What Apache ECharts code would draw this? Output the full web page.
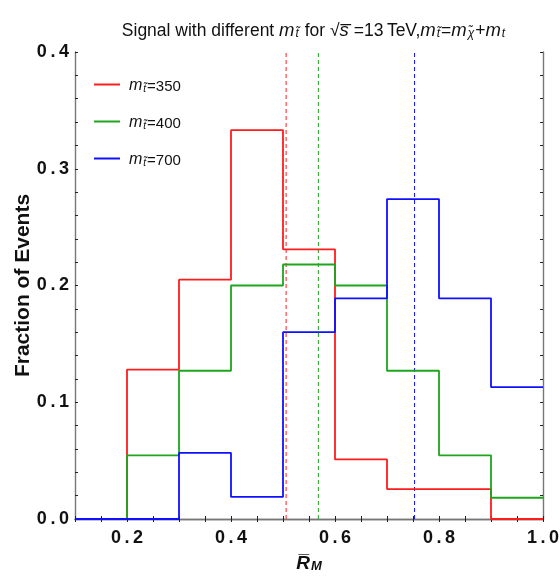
<!DOCTYPE html>
<html>
<head>
<meta charset="utf-8">
<script src="https://cdn.jsdelivr.net/npm/echarts@6/dist/echarts.min.js"></script>
<style>html,body{margin:0;padding:0;background:#fff}#c{width:560px;height:576px}</style>
</head>
<body>
<div id="c"></div>
<script>
// bin left edges (last entry = right edge of last bin)
var binEdges = [0.1, 0.2, 0.3, 0.4, 0.5, 0.6, 0.7, 0.8, 0.9, 1.0];
var seriesNames = ['350', '400', '700'];
var red350 = [0, 0.128, 0.205, 0.333, 0.231, 0.051, 0.0256, 0.0256, 0];
var green400 = [0, 0.0545, 0.127, 0.200, 0.218, 0.200, 0.127, 0.0545, 0.0182];
var blue700 = [0, 0, 0.0566, 0.0189, 0.160, 0.189, 0.274, 0.189, 0.113];
var meanLines = [0.506, 0.568, 0.753];
var colors = ['#ff1c1c', '#1ea51e', '#1010ff'];
var xTickLabels = [0.2, 0.4, 0.6, 0.8, 1.0];
var yTickLabels = [0.0, 0.1, 0.2, 0.3, 0.4];
var yRange = [0, 0.4];

function spaced(s) { return s.split('').join('\u2009'); }
function stepData(vals) {
  var d = [];
  for (var i = 0; i < vals.length; i++) d.push([binEdges[i], vals[i]]);
  d.push([binEdges[vals.length], vals[vals.length - 1]]);
  return d;
}
function near(v, list) {
  for (var i = 0; i < list.length; i++) if (Math.abs(v - list[i]) < 1e-6) return list[i];
  return null;
}
var allVals = [red350, green400, blue700];
var font = 'Liberation Sans, Arial, sans-serif';

var series = [];
allVals.forEach(function (vals, i) {
  series.push({
    name: 'mean' + seriesNames[i],
    type: 'line',
    data: [[meanLines[i], yRange[0]], [meanLines[i], yRange[1]]],
    showSymbol: false,
    symbol: 'none',
    silent: true,
    lineStyle: { color: colors[i], type: [4, 3], width: 1 },
    itemStyle: { color: colors[i] },
    z: 2
  });
});
allVals.forEach(function (vals, i) {
  series.push({
    name: seriesNames[i],
    type: 'line',
    step: 'end',
    data: stepData(vals),
    showSymbol: false,
    symbol: 'none',
    lineStyle: { color: colors[i], width: 1.8 },
    itemStyle: { color: colors[i] },
    z: 3 + i
  });
});

var axisCommon = {
  axisLine: { lineStyle: { color: '#777', width: 1.4 } },
  axisTick: { inside: true, length: 3, lineStyle: { color: '#222', width: 1 } },
  splitLine: { show: false }
};

function richSet(n, i, s, lh, pad) {
  return {
    n: { fontFamily: font, fontSize: n, fontWeight: 'normal', color: '#111', lineHeight: lh, verticalAlign: 'bottom' },
    i: { fontFamily: font, fontSize: i, fontWeight: 'normal', fontStyle: 'italic', color: '#111', lineHeight: lh, verticalAlign: 'bottom' },
    s: { fontFamily: font, fontSize: s, fontWeight: 'normal', fontStyle: 'italic', color: '#111', lineHeight: s, padding: [pad, 1, 0, 1], verticalAlign: 'bottom' }
  };
}

var chart = echarts.init(document.getElementById('c'), null, { renderer: 'canvas' });
chart.setOption({
  animation: false,
  backgroundColor: '#fff',
  title: {
    text: '{n|Signal with different }{i|m}{s|t\u0303}{n| for }{n|\u221A}{i|s\u0305}{n| =13\u2009TeV,}{i|m}{s|t\u0303}{n|=}{i|m}{s|\u03C7\u0303}{n|+}{i|m}{s|t}',
    left: 309,
    textAlign: 'center',
    top: 14,
    textStyle: { fontWeight: 'normal', rich: richSet(17.5, 18.5, 12, 21, 8) }
  },
  legend: {
    show: true,
    orient: 'vertical',
    left: 89,
    top: 72,
    itemWidth: 26,
    itemHeight: 2,
    itemGap: 20,
    icon: 'rect',
    selectedMode: false,
    data: seriesNames,
    formatter: function (name) { return '{i|m}{s|t\u0303}{n|=' + name + '}'; },
    textStyle: { padding: [0, 0, 0, 4], rich: richSet(15, 16, 10, 19, 7) }
  },
  grid: { left: 75, right: 17, top: 52, bottom: 57, containLabel: false, outerBoundsMode: 'none' },
  xAxis: [
    Object.assign({}, axisCommon, {
      type: 'value', min: 0.1, max: 1.0, interval: 0.05, position: 'bottom',
      axisLabel: {
        show: true, margin: 10, fontFamily: font, fontSize: 18, fontWeight: 'bold', color: '#111',
        formatter: function (v) { var m = near(v, xTickLabels); return m === null ? '' : spaced(m.toFixed(1)); }
      },
      name: '{r|R\u0305}{m|M}',
      nameLocation: 'middle',
      nameGap: 32,
      nameMoveOverlap: false,
      nameTextStyle: {
        rich: {
          r: { fontFamily: font, fontSize: 19, fontWeight: 'bold', fontStyle: 'italic', color: '#111', lineHeight: 22, verticalAlign: 'bottom' },
          m: { fontFamily: font, fontSize: 13, fontWeight: 'bold', fontStyle: 'italic', color: '#111', lineHeight: 12, padding: [8, 0, 0, 1], verticalAlign: 'bottom' }
        }
      }
    }),
    Object.assign({}, axisCommon, {
      type: 'value', min: 0.1, max: 1.0, interval: 0.05, position: 'top',
      axisLabel: { show: false }
    })
  ],
  yAxis: [
    Object.assign({}, axisCommon, {
      type: 'value', min: yRange[0], max: yRange[1], interval: 0.02, position: 'left',
      axisLabel: {
        show: true, margin: 6, fontFamily: font, fontSize: 18, fontWeight: 'bold', color: '#111',
        formatter: function (v) { var m = near(v, yTickLabels); return m === null ? '' : spaced(m.toFixed(1)); }
      },
      name: 'Fraction of Events',
      nameLocation: 'middle',
      nameGap: 41,
      nameMoveOverlap: false,
      nameTextStyle: { fontFamily: font, fontSize: 21, fontWeight: 'bold', color: '#111' }
    }),
    Object.assign({}, axisCommon, {
      type: 'value', min: yRange[0], max: yRange[1], interval: 0.02, position: 'right',
      axisLabel: { show: false }
    })
  ],
  series: series
});
</script>
</body>
</html>
